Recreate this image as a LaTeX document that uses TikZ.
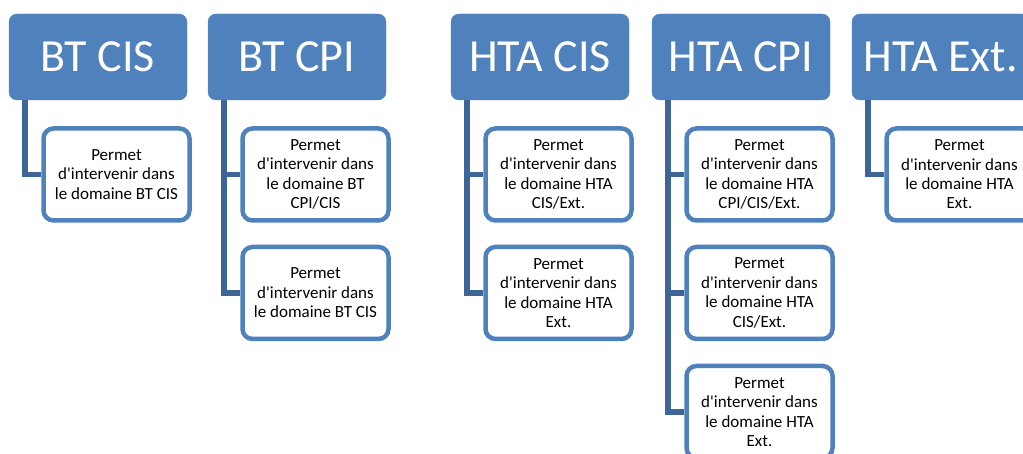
\documentclass[tikz,border=0pt]{standalone}
\usepackage{fontspec}
\setmainfont{Carlito}[Ligatures=TeXOff]
\usepackage{xcolor}
\usetikzlibrary{positioning}
\definecolor{boxblue}{HTML}{4F81BD}
\definecolor{linkblue}{HTML}{3D6596}
\newcommand{\perm}[1]{Permet\\d'intervenir dans\\le domaine #1}

\begin{document}
\begin{tikzpicture}[x=1pt,y=1pt,
    parentbox/.style={fill=boxblue, draw=boxblue, rounded corners=8pt, minimum width=178pt, minimum height=86pt, inner sep=0pt, text=white, font=\fontsize{46}{50}\selectfont},
    childbox/.style={fill=white, draw=boxblue, line width=4.5pt, rounded corners=10pt, minimum width=146pt, minimum height=92pt, inner sep=0pt, align=center, text=black, font=\fontsize{17}{19.4}\selectfont},
    link/.style={draw=linkblue, line width=5.5pt}]
\useasboundingbox (0,0) rectangle (1023,454);
\clip (0,0) rectangle (1023,454);
% Top level
\foreach \n/\x/\t in {btcis/98/BT CIS, btcpi/297/BT CPI, htacis/540/HTA CIS, htacpi/741/HTA CPI, htaext/941/HTA Ext.}
    \node[parentbox] (\n) at (\x,397) {\t};
% Sub boxes
\node[childbox] (btcis1) at (116.5,279.5) {\perm{BT CIS}};
\node[childbox] (btcpi1) at (315.5,279.5) {\perm{BT\\CPI/CIS}};
\node[childbox] (btcpi2) at (315.5,161) {\perm{BT CIS}};
\node[childbox] (htacis1) at (558.5,279.5) {\perm{HTA\\CIS/Ext.}};
\node[childbox] (htacis2) at (558.5,161) {\perm{HTA\\Ext.}};
\node[childbox] (htacpi1) at (759.5,279.5) {\perm{HTA\\CPI/CIS/Ext.}};
\node[childbox] (htacpi2) at (759.5,161) {\perm{HTA\\CIS/Ext.}};
\node[childbox] (htacpi3) at (759.5,42) {\perm{HTA\\Ext.}};
\node[childbox] (htaext1) at (959.5,279.5) {\perm{HTA\\Ext.}};
% Connections
\foreach \p/\c in {btcis/btcis1, btcpi/btcpi1, btcpi/btcpi2, htacis/htacis1, htacis/htacis2,
                   htacpi/htacpi1, htacpi/htacpi2, htacpi/htacpi3, htaext/htaext1}
    \draw[link] ([xshift=16pt]\p.south west) |- (\c.west);
\end{tikzpicture}
\end{document}
